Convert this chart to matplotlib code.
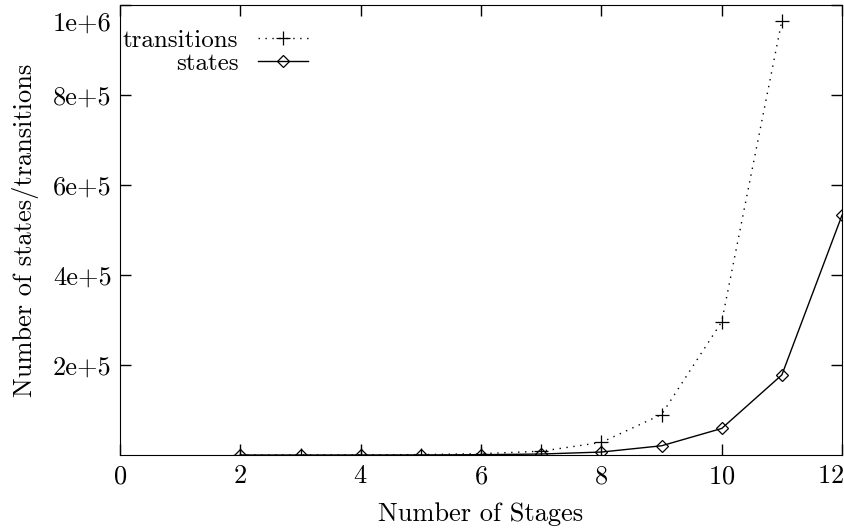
import matplotlib
matplotlib.use("Agg")
import matplotlib.pyplot as plt
import matplotlib.transforms as mtransforms

stages_t = [2, 3, 4, 5, 6, 7, 8, 9, 10, 11]
transitions = [20, 90, 300, 950, 2900, 8500, 28000, 90000, 296000, 965000]

stages_s = [2, 3, 4, 5, 6, 7, 8, 9, 10, 11, 12]
states = [9, 27, 81, 243, 730, 2200, 6600, 20500, 59000, 178000, 533000]

xticks = [0, 2, 4, 6, 8, 10, 12]
yticks = [2e5, 4e5, 6e5, 8e5, 1e6]
ylabels = ["2e+5", "4e+5", "6e+5", "8e+5", "1e+6"]

plt.rcParams["font.family"] = ["cmr10", "DejaVu Serif"]
plt.rcParams["axes.formatter.use_mathtext"] = True
plt.rcParams["font.size"] = 19

fig = plt.figure(figsize=(8.45, 5.32), dpi=100)
ax = fig.add_axes([0.142, 0.1447, 0.8545, 0.846])

ax.plot(stages_t, transitions, color="black", linestyle=(0, (1, 4)), linewidth=1,
        marker="+", markersize=10, markeredgewidth=0.9, label="transitions")
ax.plot(stages_s, states, color="black", linestyle="-", linewidth=1,
        marker="D", markersize=6.5, markerfacecolor="none", markeredgewidth=0.9,
        label="states")

ax.set_xlim(0, 12)
ax.set_ylim(0, 1e6)
ax.set_xticks(xticks)
ax.set_yticks(yticks)
ax.set_yticklabels(ylabels)
ax.tick_params(direction="in", length=8, width=1, top=True, right=True)
ax.tick_params(axis="x", pad=7)
ax.tick_params(axis="y", pad=6)

# gnuplot keeps the edge labels inside the canvas
top_lbl = ax.get_yticklabels()[-1]
top_lbl.set_transform(top_lbl.get_transform() +
                      mtransforms.ScaledTranslation(0, -12 / 72, fig.dpi_scale_trans))
last_x = ax.get_xticklabels()[-1]
last_x.set_transform(last_x.get_transform() +
                     mtransforms.ScaledTranslation(-8 / 72, 0, fig.dpi_scale_trans))

ax.set_xlabel("Number of Stages", labelpad=10)
ax.set_ylabel("Number of states/transitions", labelpad=10)

ax.legend(loc="upper left", bbox_to_anchor=(0.004, 0.945), markerfirst=False,
          frameon=False, handlelength=2.0, borderaxespad=0, borderpad=0,
          labelspacing=0.0, handletextpad=0.8, fontsize=18)

fig.savefig("out.png", dpi=100)
